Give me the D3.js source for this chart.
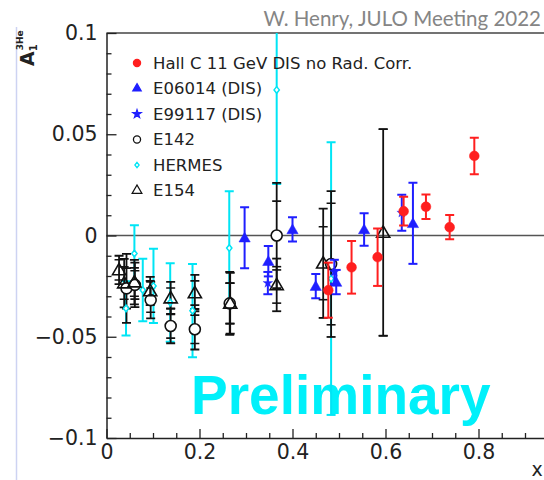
<!DOCTYPE html>
<html>
<head>
<meta charset="utf-8">
<script src="https://cdn.jsdelivr.net/npm/d3@7"></script>
<style>
  body { margin: 0; background: #fff; }
  svg { display: block; }
</style>
</head>
<body>
<svg id="chart" width="544" height="480"></svg>
<script>
// ---- Hall C 11 GeV DIS, no radiative corrections ----
const hallCX   = [0.477, 0.527, 0.583, 0.639, 0.687, 0.738, 0.791];
const hallCY   = [-0.0270, -0.0157, -0.0107, 0.0120, 0.0142, 0.0041, 0.0393];
const hallCErr = [0.0136, 0.0130, 0.0142, 0.0071, 0.0060, 0.0060, 0.0090];

// ---- E06014 (DIS) ----
const e06014X   = [0.297, 0.348, 0.400, 0.450, 0.494, 0.554, 0.659];
const e06014Y   = [-0.0011, -0.0127, 0.0030, -0.0250, -0.0230, 0.0030, 0.0060];
const e06014Err = [0.0151, 0.0075, 0.0060, 0.0060, 0.0060, 0.0080, 0.0200];

// ---- E99117 (DIS) ----
const e99117X   = [0.347, 0.490, 0.635];
const e99117Y   = [-0.0235, -0.0180, 0.0112];
const e99117Err = [0.0055, 0.0060, 0.0089];

// ---- E142 (statistical and total uncertainties) ----
const e142X       = [0.043, 0.061, 0.095, 0.138, 0.190, 0.265, 0.366, 0.483];
const e142Y       = [-0.0261, -0.0244, -0.0319, -0.0447, -0.0463, -0.0335, 0.0000, -0.0141];
const e142ErrStat = [0.010, 0.007, 0.006, 0.006, 0.007, 0.010, 0.017, 0.030];
const e142ErrTot  = [0.017, 0.011, 0.009, 0.0085, 0.010, 0.0155, 0.026, 0.036];

// ---- HERMES ----
const hermesX   = [0.042, 0.060, 0.078, 0.101, 0.137, 0.185, 0.264, 0.366, 0.483];
const hermesY   = [-0.0360, -0.0089, -0.0269, -0.0249, -0.0331, -0.0371, -0.0062, 0.0719, -0.0213];
const hermesErr = [0.0134, 0.0140, 0.0154, 0.0183, 0.0194, 0.0230, 0.0280, 0.0465, 0.0673];

// ---- E154 (statistical and total uncertainties) ----
const e154X       = [0.027, 0.038, 0.060, 0.094, 0.138, 0.190, 0.266, 0.366, 0.466, 0.595];
const e154Y       = [-0.0170, -0.0235, -0.0230, -0.0274, -0.0309, -0.0284, -0.0335, -0.0244, -0.0137, 0.0015];
const e154ErrStat = [0.005, 0.008, 0.007, 0.005, 0.005, 0.006, 0.010, 0.009, 0.018, 0.051];
const e154ErrTot  = [0.007, 0.012, 0.011, 0.007, 0.008, 0.009, 0.015, 0.013, 0.027, 0.051];

// ---- axes ----
const xTickValues = [0, 0.2, 0.4, 0.6, 0.8];
const xTickLabels = ["0", "0.2", "0.4", "0.6", "0.8"];
const yTickValues = [-0.1, -0.05, 0, 0.05, 0.1];
const yTickLabels = ["\u22120.1", "\u22120.05", "0", "0.05", "0.1"];

const legendLabels = [
  "Hall C 11 GeV DIS no Rad. Corr.",
  "E06014 (DIS)",
  "E99117 (DIS)",
  "E142",
  "HERMES",
  "E154"
];

const RED = "#ff1f1f", BLUE = "#1f1fff", CYAN = "#00e5f5", BLACK = "#111";

const svg = d3.select("#chart");
const W = 544, H = 480;
svg.append("rect").attr("width", W).attr("height", H).attr("fill", "#fff");

// left border of the slide panel
svg.append("line")
  .attr("x1", 16.5).attr("x2", 16.5).attr("y1", 27).attr("y2", H)
  .attr("stroke", "#cdd3f2").attr("stroke-width", 1.5);

const x = d3.scaleLinear().domain([0, 1]).range([106.5, 571.5]);
const y = d3.scaleLinear().domain([-0.1, 0.1]).range([438, 33]);

svg.append("clipPath").attr("id", "plotClip")
  .append("rect")
  .attr("x", x(0)).attr("y", y(0.1))
  .attr("width", x(1) - x(0)).attr("height", y(-0.1) - y(0.1));

// frame top
svg.append("line")
  .attr("x1", x(0)).attr("x2", x(1)).attr("y1", y(0.1)).attr("y2", y(0.1))
  .attr("stroke", "#444").attr("stroke-width", 1.5);

// zero line
svg.append("line")
  .attr("x1", x(0)).attr("x2", x(1)).attr("y1", y(0)).attr("y2", y(0))
  .attr("stroke", "#555").attr("stroke-width", 1.6);

// Preliminary watermark
svg.append("text")
  .attr("x", 191).attr("y", 414)
  .attr("font-family", "Liberation Sans, Arial, sans-serif")
  .attr("font-weight", "bold")
  .attr("font-size", 55)
  .attr("fill", "#00f0fa")
  .text("Preliminary");

// y axis
const yAxis = svg.append("g").attr("transform", `translate(${x(0)},0)`)
  .call(d3.axisLeft(y).tickValues(yTickValues)
    .tickFormat((d, i) => yTickLabels[i])
    .tickSize(-10).tickSizeOuter(0).tickPadding(9));
const yMinor = svg.append("g").attr("transform", `translate(${x(0)},0)`)
  .call(d3.axisLeft(y).tickValues(d3.range(-0.1, 0.1001, 0.01).filter(v => Math.abs(Math.round(v * 100) % 5) !== 0))
    .tickFormat("").tickSize(-5).tickSizeOuter(0));
yMinor.select(".domain").remove();

// x axis
const xAxis = svg.append("g").attr("transform", `translate(0,${y(-0.1)})`)
  .call(d3.axisBottom(x).tickValues(xTickValues)
    .tickFormat((d, i) => xTickLabels[i])
    .tickSize(-9).tickSizeOuter(0).tickPadding(6));
const xMinor = svg.append("g").attr("transform", `translate(0,${y(-0.1)})`)
  .call(d3.axisBottom(x).tickValues(d3.range(0.05, 1.0, 0.05).filter(v => Math.abs(Math.round(v * 100) % 20) !== 0))
    .tickFormat("").tickSize(-5).tickSizeOuter(0));
xMinor.select(".domain").remove();

[yAxis, xAxis, yMinor, xMinor].forEach(g => {
  g.selectAll(".domain").attr("stroke", "#222").attr("stroke-width", 1.5);
  g.selectAll(".tick line").attr("stroke", "#222").attr("stroke-width", 1.3);
  g.selectAll("text")
    .attr("font-family", "DejaVu Sans, sans-serif")
    .attr("font-size", 20.5).attr("fill", "#222");
});

// axis titles
svg.append("text")
  .attr("x", 537).attr("y", 476)
  .attr("text-anchor", "middle")
  .attr("font-family", "DejaVu Sans, sans-serif").attr("font-size", 19).attr("fill", "#222")
  .text("x");

const yTitle = svg.append("text")
  .attr("transform", "translate(34,66) rotate(-90)")
  .attr("font-family", "DejaVu Sans, sans-serif").attr("font-weight", "bold")
  .attr("fill", "#222");
yTitle.append("tspan").attr("font-size", 19).text("A");
yTitle.append("tspan").attr("font-size", 10).attr("dy", 3).text("1");
yTitle.append("tspan").attr("font-size", 9).attr("dx", -6).attr("dy", -14).text("3He");

// top-right credit
svg.append("text")
  .attr("x", 541).attr("y", 26)
  .attr("text-anchor", "end")
  .attr("font-family", "Lato, sans-serif").attr("font-size", 20.5)
  .attr("fill", "#858585")
  .text("W. Henry, JULO Meeting 2022");

// ---- data layers ----
const plot = svg.append("g").attr("clip-path", "url(#plotClip)");

function rows(xs, ys, lo, hi) {
  return xs.map((v, i) => ({ x: v, y: ys[i], lo: lo ? lo[i] : 0, hi: hi ? hi[i] : 0 }));
}

function errorBars(data, color, cap, width) {
  const g = plot.append("g").attr("stroke", color).attr("stroke-width", width);
  g.selectAll("line.v").data(data).join("line").attr("class", "v")
    .attr("x1", d => x(d.x)).attr("x2", d => x(d.x))
    .attr("y1", d => y(d.y - d.hi)).attr("y2", d => y(d.y + d.hi));
  [-1, 1].forEach(s => {
    g.selectAll(`line.c${s}`).data(data).join("line").attr("class", `c${s}`)
      .attr("x1", d => x(d.x) - cap).attr("x2", d => x(d.x) + cap)
      .attr("y1", d => y(d.y + s * d.hi)).attr("y2", d => y(d.y + s * d.hi));
  });
}

function innerCaps(data, color, cap, width) {
  const g = plot.append("g").attr("stroke", color).attr("stroke-width", width);
  [-1, 1].forEach(s => {
    g.selectAll(`line.i${s}`).data(data).join("line").attr("class", `i${s}`)
      .attr("x1", d => x(d.x) - cap).attr("x2", d => x(d.x) + cap)
      .attr("y1", d => y(d.y + s * d.lo)).attr("y2", d => y(d.y + s * d.lo));
  });
}

function markers(data, type, size, fill, stroke, sw, dy) {
  plot.append("g").selectAll("path").data(data).join("path")
    .attr("transform", d => `translate(${x(d.x)},${y(d.y) + (dy || 0)})`)
    .attr("d", d3.symbol().type(type).size(size))
    .attr("fill", fill).attr("stroke", stroke).attr("stroke-width", sw);
}

const diamond = {
  draw(ctx, size) {
    const r = Math.sqrt(size) / 2;
    ctx.moveTo(0, -r * 1.25); ctx.lineTo(r, 0); ctx.lineTo(0, r * 1.25); ctx.lineTo(-r, 0); ctx.closePath();
  }
};

// HERMES
const hermes = rows(hermesX, hermesY, null, hermesErr);
errorBars(hermes, CYAN, 4.5, 2);

// E142 and E154
const e142 = rows(e142X, e142Y, e142ErrStat, e142ErrTot);
const e154 = rows(e154X, e154Y, e154ErrStat, e154ErrTot);
errorBars(e142, BLACK, 4.5, 1.8);
innerCaps(e142, BLACK, 4.5, 1.6);
errorBars(e154, BLACK, 4.5, 1.8);
innerCaps(e154, BLACK, 4.5, 1.6);

markers(hermes, diamond, 28, "#fff", CYAN, 1.5);
markers(e142, d3.symbolCircle, 95, "#fff", BLACK, 1.6);
markers(e154, d3.symbolTriangle, 75, "none", BLACK, 1.6, 1);

// E06014 and E99117
const e06014 = rows(e06014X, e06014Y, null, e06014Err);
const e99117 = rows(e99117X, e99117Y, null, e99117Err);
errorBars(e06014, BLUE, 4.5, 2);
errorBars(e99117, BLUE, 4.5, 2);
markers(e06014, d3.symbolTriangle, 55, BLUE, BLUE, 0.5, 1);
markers(e99117, d3.symbolStar, 30, BLUE, BLUE, 0.3);

// Hall C
const hallC = rows(hallCX, hallCY, null, hallCErr);
errorBars(hallC, RED, 4.5, 2);
markers(hallC, d3.symbolCircle, 75, RED, RED, 0.5);

// ---- legend ----
const legend = svg.append("g").attr("transform", "translate(137,63)");
const legendStyles = [
  { type: d3.symbolCircle, size: 40, fill: RED, stroke: RED },
  { type: d3.symbolTriangle, size: 30, fill: BLUE, stroke: BLUE },
  { type: d3.symbolStar, size: 20, fill: BLUE, stroke: BLUE },
  { type: d3.symbolCircle, size: 40, fill: "none", stroke: BLACK },
  { type: diamond, size: 18, fill: "none", stroke: CYAN },
  { type: d3.symbolTriangle, size: 40, fill: "none", stroke: BLACK }
];
const rowsL = legend.selectAll("g").data(legendLabels).join("g")
  .attr("transform", (d, i) => `translate(0,${i * 25.5})`);
rowsL.append("path")
  .attr("d", (d, i) => d3.symbol().type(legendStyles[i].type).size(legendStyles[i].size)())
  .attr("fill", (d, i) => legendStyles[i].fill)
  .attr("stroke", (d, i) => legendStyles[i].stroke)
  .attr("stroke-width", 1.3);
rowsL.append("text")
  .attr("x", 16).attr("dy", "0.36em")
  .attr("font-family", "DejaVu Sans, sans-serif").attr("font-size", 16.5)
  .attr("fill", "#222")
  .text(d => d);
</script>
</body>
</html>
